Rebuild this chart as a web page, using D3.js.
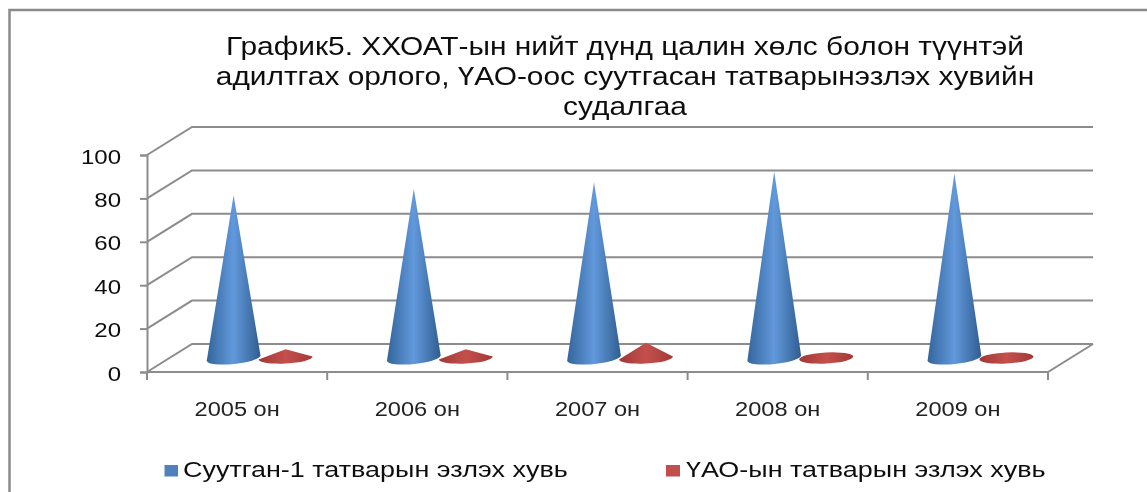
<!DOCTYPE html>
<html><head><meta charset="utf-8">
<script src="https://cdn.jsdelivr.net/npm/d3@7"></script>
<style>html,body{margin:0;padding:0;background:#fff;overflow:hidden}svg{display:block}text{font-family:"Liberation Sans",Arial,sans-serif}</style>
</head><body><div id="c"></div>
<script>
const categories=["2005 он","2006 он","2007 он","2008 он","2009 он"];
const series1=[75,78,81,86,85];
const series2=[4,4,7,1,1];
const yTicks=[0,20,40,60,80,100];
const titleLines=["График5. ХХОАТ-ын нийт дүнд цалин хөлс болон түүнтэй","адилтгах орлого, ҮАО-оос суутгасан татварынэзлэх хувийн","судалгаа"];
const seriesNames=["Суутган-1 татварын эзлэх хувь","ҮАО-ын татварын эзлэх хувь"];

const W=1147,H=492;
const svg=d3.select("#c").append("svg").attr("width",W).attr("height",H);
const defs=svg.append("defs");
function grad(id,stops){const g=defs.append("linearGradient").attr("id",id);
 stops.forEach(s=>g.append("stop").attr("offset",s[0]).attr("stop-color",s[1]));}
grad("blue",[[0,"#33659c"],[.5,"#6299dc"],[1,"#2f5d90"]]);
grad("red",[[0,"#a03836"],[.5,"#c4504c"],[1,"#a23a38"]]);
defs.append("filter").attr("id","soft").append("feGaussianBlur").attr("stdDeviation",.5);

// the reference is stretched horizontally: widen text without changing its height
function stretch(sel,k){sel.each(function(){
 d3.select(this).attr("textLength",this.getComputedTextLength()*k).attr("lengthAdjust","spacingAndGlyphs");});}

const x=d3.scaleBand().domain(categories).range([147,1048]);
const y=d3.scaleLinear().domain([0,100]).range([372,155]);
const depth={dx:45,dy:-28};
const grid="#8c8c8c";

const root=svg.append("g").attr("filter","url(#soft)");
// outer frame: only left and top edges are in view
root.append("path").attr("d","M9.5,500V10H1160").attr("fill","none").attr("stroke","#8a8a8a").attr("stroke-width",2.5);
// wall gridlines and side wall
yTicks.forEach(t=>{
 const yy=y(t);
 root.append("path").attr("fill","none").attr("stroke",grid).attr("stroke-width",2)
  .attr("d",`M${x.range()[0]},${yy}L${x.range()[0]+depth.dx},${yy+depth.dy}H${x.range()[1]+depth.dx}`);
});
// floor front & right edge
root.append("path").attr("fill","none").attr("stroke",grid).attr("stroke-width",2)
 .attr("d",`M${x.range()[0]},${y(0)}H${x.range()[1]}L${x.range()[1]+depth.dx},${y(0)+depth.dy}`);
// y axis
const yAxis=d3.axisLeft(y).tickValues(yTicks).tickSize(7).tickPadding(19);
const ga=root.append("g").attr("transform",`translate(${x.range()[0]},0)`).call(yAxis);
ga.selectAll("path,line").attr("stroke",grid).attr("stroke-width",2);
ga.selectAll("text").attr("font-size",20).attr("fill","#111").attr("dy","0.4em").call(stretch,1.2);
// x axis
const xAxis=d3.axisBottom(x).tickSize(0).tickPadding(30);
const gx=root.append("g").attr("transform",`translate(0,${y(0)})`).call(xAxis);
gx.select("path").remove();
gx.selectAll("text").attr("font-size",19.5).attr("fill","#222").call(stretch,1.21);
[...categories.map(c=>x(c)),x.range()[1]].forEach(v=>{
 gx.append("line").attr("x1",v).attr("x2",v).attr("y1",0).attr("y2",8).attr("stroke",grid).attr("stroke-width",2);
});
// cones
const hw=27,off=26,baseY=y(0)+depth.dy/2;
function cone(cx,v,fill,ry,tilt){
 const top=y(v)+depth.dy/2;
 const a=tilt*Math.PI/180,ex=hw*Math.cos(a),ey=hw*Math.sin(a);
 if(baseY-top<ry){
  root.append("ellipse").attr("cx",cx).attr("cy",baseY).attr("rx",hw).attr("ry",ry)
   .attr("transform",`rotate(${tilt} ${cx} ${baseY})`).attr("fill",`url(#${fill})`);
 }else{
  root.append("path").attr("d",`M${cx-ex},${baseY-ey}L${cx},${top}L${cx+ex},${baseY+ey}A${hw},${ry} ${tilt} 0 1 ${cx-ex},${baseY-ey}Z`)
   .attr("fill",`url(#${fill})`);
 }
}
categories.forEach((c,i)=>{
 const cx=x(c)+x.bandwidth()/2+depth.dx/2;
 cone(cx-off,series1[i],"blue",6,-6);
 cone(cx+off,series2[i],"red",5.5,-3);
});
// title
titleLines.forEach((l,i)=>root.append("text").attr("x",625).attr("y",55+i*30).attr("text-anchor","middle")
 .attr("font-size",25).attr("fill","#111").text(l).call(stretch,1.195));
// legend
const legX=[164.5,666],legW=[13.5,14],legC=["#4f81bd","#c0504d"],legT=[183,686];
seriesNames.forEach((n,i)=>{
 root.append("rect").attr("x",legX[i]).attr("y",465).attr("width",legW[i]).attr("height",11.5).attr("fill",legC[i]);
 root.append("text").attr("x",legT[i]).attr("y",477).attr("font-size",22).attr("fill","#111").text(n).call(stretch,1.225);
});
</script></body></html>
